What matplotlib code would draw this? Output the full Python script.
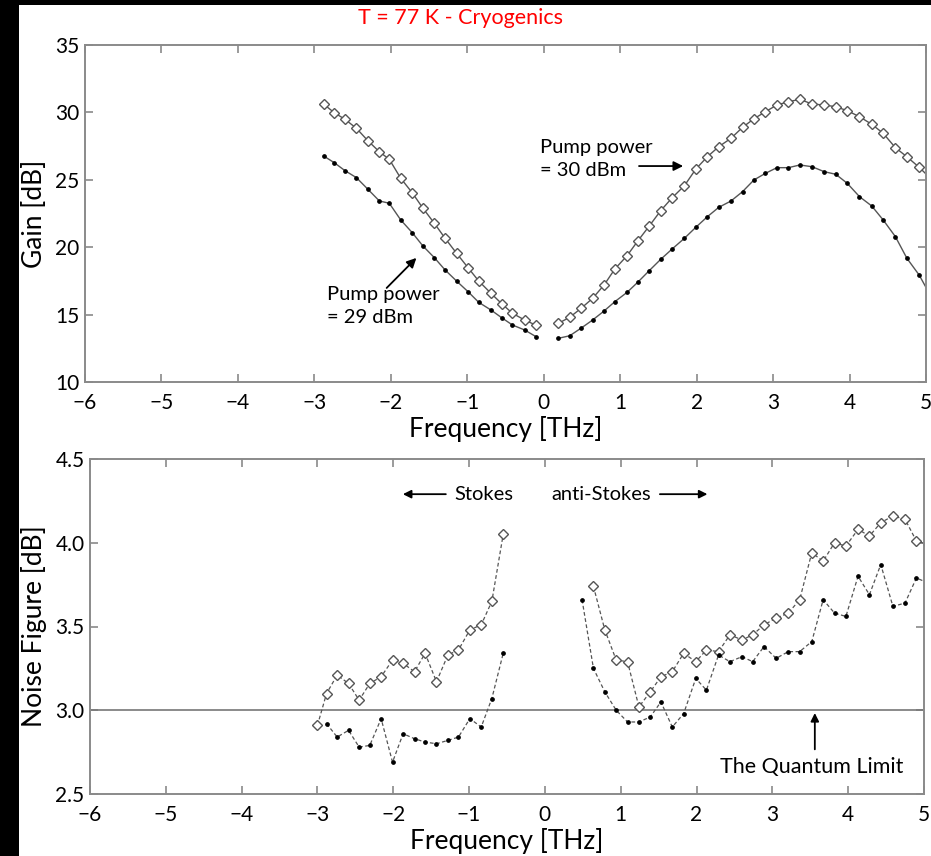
import matplotlib
matplotlib.use("Agg")
import matplotlib.pyplot as plt
from matplotlib.patches import Rectangle
import numpy as np

plt.rcParams['font.family'] = ['Lato', 'DejaVu Sans']

# ---------------- Gain (top) ----------------
gain_x_stokes = [-2.88, -2.74, -2.60, -2.45, -2.30, -2.15, -2.02, -1.87, -1.72, -1.58,
                 -1.43, -1.29, -1.14, -0.99, -0.85, -0.69, -0.55, -0.41, -0.25, -0.10]
gain30_stokes = [30.62, 29.98, 29.49, 28.82, 27.90, 27.08, 26.52, 25.11, 24.04, 22.89,
                 21.77, 20.66, 19.55, 18.48, 17.49, 16.58, 15.81, 15.10, 14.60, 14.21]
gain29_stokes = [26.77, 26.27, 25.68, 25.16, 24.30, 23.43, 23.26, 22.02, 21.08, 20.09,
                 19.22, 18.31, 17.49, 16.70, 15.91, 15.34, 14.77, 14.23, 13.86, 13.36]

gain_x_anti = [0.19, 0.34, 0.49, 0.64, 0.79, 0.93, 1.09, 1.23, 1.38, 1.53, 1.68, 1.84,
               1.99, 2.14, 2.29, 2.45, 2.60, 2.75, 2.90, 3.05, 3.20, 3.35, 3.51, 3.67,
               3.82, 3.97, 4.13, 4.29, 4.44, 4.60, 4.75, 4.91, 5.06]
gain30_anti = [14.35, 14.80, 15.47, 16.21, 17.20, 18.38, 19.37, 20.46, 21.57, 22.71,
               23.67, 24.56, 25.80, 26.71, 27.46, 28.08, 28.89, 29.53, 30.05, 30.55,
               30.79, 30.97, 30.62, 30.55, 30.42, 30.13, 29.68, 29.12, 28.45, 27.38,
               26.71, 25.93, 25.10]
gain29_anti = [13.24, 13.43, 14.00, 14.60, 15.27, 15.96, 16.65, 17.40, 18.26, 19.10,
               19.87, 20.66, 21.48, 22.26, 22.96, 23.43, 24.12, 24.99, 25.48, 25.90,
               25.90, 26.10, 25.97, 25.60, 25.41, 24.74, 23.75, 23.06, 22.02, 20.78,
               19.18, 17.94, 16.40]

# ---------------- Noise figure (bottom) ----------------
nf_x_stokes = [-3.00, -2.88, -2.74, -2.59, -2.45, -2.31, -2.16, -2.01, -1.87, -1.72,
               -1.58, -1.43, -1.28, -1.14, -0.99, -0.84, -0.70, -0.55]
nf30_stokes = [2.91, 3.10, 3.21, 3.16, 3.06, 3.16, 3.20, 3.30, 3.28, 3.23,
               3.34, 3.17, 3.33, 3.36, 3.48, 3.51, 3.65, 4.05]
nf29_stokes = [2.92, 2.84, 2.88, 2.78, 2.79, 2.95, 2.69, 2.86, 2.83,
               2.81, 2.80, 2.82, 2.84, 2.95, 2.90, 3.07, 3.34]

nf_x_anti30 = [0.64, 0.79, 0.94, 1.09, 1.24, 1.39, 1.53, 1.68, 1.83, 1.99, 2.13, 2.29,
               2.44, 2.60, 2.74, 2.89, 3.05, 3.21, 3.36, 3.52, 3.67, 3.82, 3.97, 4.13,
               4.28, 4.43, 4.59, 4.75, 4.90, 5.05]
nf30_anti = [3.74, 3.48, 3.30, 3.29, 3.02, 3.11, 3.20, 3.23, 3.34, 3.29, 3.36, 3.35,
             3.45, 3.42, 3.45, 3.51, 3.55, 3.58, 3.66, 3.94, 3.89, 4.00, 3.98, 4.08,
             4.04, 4.12, 4.16, 4.14, 4.01, 3.99]
nf_x_anti29 = [0.49, 0.64, 0.79, 0.94, 1.09, 1.24, 1.39, 1.53, 1.68, 1.83, 1.99, 2.13,
               2.29, 2.44, 2.60, 2.74, 2.89, 3.05, 3.21, 3.36, 3.52, 3.67, 3.82, 3.97,
               4.13, 4.28, 4.43, 4.59, 4.75, 4.90, 5.05]
nf29_anti = [3.66, 3.25, 3.11, 3.00, 2.93, 2.93, 2.96, 3.05, 2.90, 2.98, 3.19, 3.12,
             3.33, 3.29, 3.32, 3.29, 3.38, 3.31, 3.35, 3.35, 3.41, 3.66, 3.58, 3.56,
             3.80, 3.69, 3.87, 3.62, 3.64, 3.79, 3.76]

quantum_limit = 3.0

x_ticks = [-6, -5, -4, -3, -2, -1, 0, 1, 2, 3, 4, 5]
gain_ticks = [10, 15, 20, 25, 30, 35]
nf_ticks = [2.5, 3.0, 3.5, 4.0, 4.5]

W, H = 931, 856
fig = plt.figure(figsize=(W / 100, H / 100), dpi=100)
fig.patch.set_facecolor('black')
fig.add_artist(Rectangle((19 / W, 0), 1 - 19 / W, (H - 5) / H, transform=fig.transFigure,
                         facecolor='white', edgecolor='none', zorder=-10))

spine_col = '#8a8a8a'
line_col = '#555555'
tick_fs = 15
label_fs = 19


def style_axes(ax):
    for s in ax.spines.values():
        s.set_color(spine_col)
        s.set_linewidth(1.4)
    ax.tick_params(direction='in', length=6, width=1.2, color=spine_col,
                   top=True, right=True, labelsize=tick_fs)
    ax.tick_params(axis='x', pad=8)
    ax.tick_params(axis='y', pad=4)
    ax.set_facecolor('white')


ax1 = fig.add_axes([85 / W, 1 - 382 / H, 841 / W, 337 / H])
style_axes(ax1)
dkw = dict(color=line_col, lw=1.0, marker='D', ms=5.5, mfc='white', mec='#555555', mew=1.0)
pkw = dict(color=line_col, lw=1.0, marker='o', ms=2.4, mfc='black', mec='black')
ax1.plot(gain_x_stokes, gain30_stokes, **dkw)
ax1.plot(gain_x_stokes, gain29_stokes, **pkw)
ax1.plot(gain_x_anti, gain30_anti, **dkw)
ax1.plot(gain_x_anti, gain29_anti, **pkw)
ax1.set_xlim(-6, 5)
ax1.set_ylim(10, 35)
ax1.set_xticks(x_ticks)
ax1.set_xticklabels([str(t).replace('-', '\u2212') for t in x_ticks])
ax1.set_yticks(gain_ticks)
ax1.set_xlabel('Frequency [THz]', fontsize=label_fs, labelpad=2)
ax1.set_ylabel('Gain [dB]', fontsize=label_fs, labelpad=6)

ax1.text(-0.05, 28.0, 'Pump power\n= 30 dBm', fontsize=14.5, va='top', ha='left', linespacing=1.4)
ax1.annotate('', xy=(1.86, 26.02), xytext=(1.21, 26.02),
             arrowprops=dict(arrowstyle='-|>', color='black', lw=1.3, mutation_scale=14))
ax1.text(-2.84, 17.1, 'Pump power\n= 29 dBm', fontsize=14.5, va='top', ha='left', linespacing=1.4)
ax1.annotate('', xy=(-1.64, 19.35), xytext=(-2.08, 16.83),
             arrowprops=dict(arrowstyle='-|>', color='black', lw=1.3, mutation_scale=14))

fig.text(461 / W, 1 - 18 / H, 'T = 77 K - Cryogenics', color='red', fontsize=15.5,
         ha='center', va='center')

ax2 = fig.add_axes([90 / W, 1 - 794 / H, 834 / W, 335 / H])
style_axes(ax2)
dkw2 = dict(color=line_col, lw=0.9, ls=(0, (3, 2)), marker='D', ms=5.5, mfc='white',
            mec='#555555', mew=1.0)
pkw2 = dict(color=line_col, lw=0.9, ls=(0, (3, 2)), marker='o', ms=2.4, mfc='black', mec='black')
ax2.axhline(quantum_limit, color='#777777', lw=1.2)
ax2.plot(nf_x_stokes, nf30_stokes, **dkw2)
ax2.plot(nf_x_stokes[1:], nf29_stokes, **pkw2)
ax2.plot(nf_x_anti30, nf30_anti, **dkw2)
ax2.plot(nf_x_anti29, nf29_anti, **pkw2)
ax2.set_xlim(-6, 5)
ax2.set_ylim(2.5, 4.5)
ax2.set_xticks(x_ticks)
ax2.set_xticklabels([str(t).replace('-', '\u2212') for t in x_ticks])
ax2.set_yticks(nf_ticks)
ax2.set_yticklabels(['%.1f' % t for t in nf_ticks])
ax2.set_xlabel('Frequency [THz]', fontsize=label_fs, labelpad=2)
ax2.set_ylabel('Noise Figure [dB]', fontsize=label_fs, labelpad=6)

ax2.annotate('', xy=(-1.91, 4.29), xytext=(-1.27, 4.29),
             arrowprops=dict(arrowstyle='-|>', color='black', lw=1.3, mutation_scale=12))
ax2.text(-1.20, 4.29, 'Stokes', fontsize=14.5, ha='left', va='center')
ax2.text(0.09, 4.29, 'anti-Stokes', fontsize=14.5, ha='left', va='center')
ax2.annotate('', xy=(2.18, 4.29), xytext=(1.48, 4.29),
             arrowprops=dict(arrowstyle='-|>', color='black', lw=1.3, mutation_scale=12))
ax2.annotate('', xy=(3.56, 3.0), xytext=(3.56, 2.75),
             arrowprops=dict(arrowstyle='-|>', color='black', lw=1.3, mutation_scale=12))
ax2.text(3.52, 2.66, 'The Quantum Limit', fontsize=15.5, ha='center', va='center')

fig.savefig('out.png', dpi=100, facecolor=fig.get_facecolor())
